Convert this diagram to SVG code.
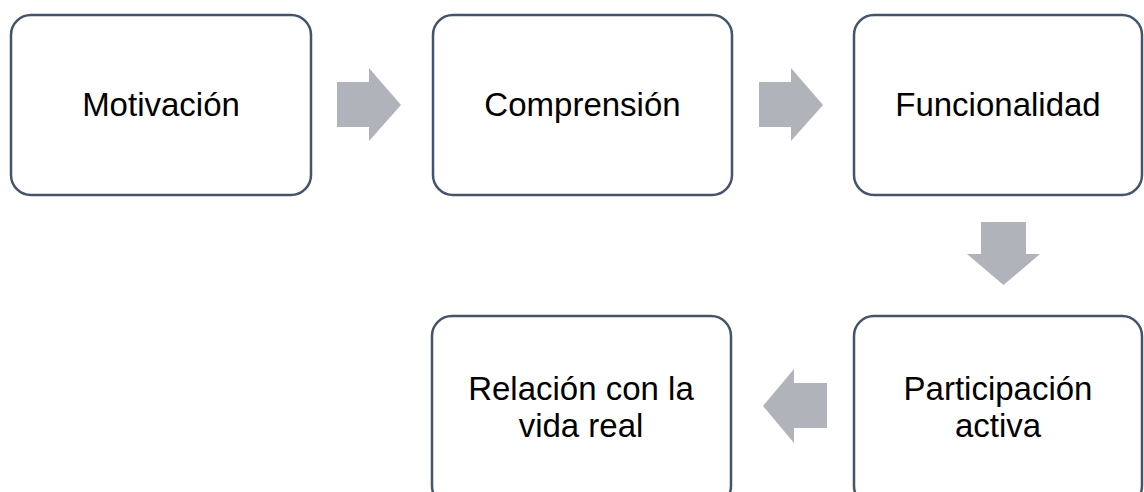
<svg xmlns="http://www.w3.org/2000/svg" width="1144" height="492" viewBox="0 0 1144 492">
<style>
.box{fill:#ffffff;stroke:#44546A;stroke-width:2.5}
.arr{fill:#B0B3B9;stroke:none}
.lbl{font-family:"Liberation Sans",Arial,sans-serif;font-size:33px;fill:#000000;text-anchor:middle}
</style>
<rect width="1144" height="492" fill="#ffffff"/>
<g id="connectors">
<polygon class="arr" points="337,82 369,82 369,68 401,105 369,141 369,127 337,127"/>
<polygon class="arr" points="759,82 791,82 791,68 823,105 791,141 791,127 759,127"/>
<polygon class="arr" points="981,222 1026,222 1026,254 1040,254 1003.5,285 967,254 981,254"/>
<polygon class="arr" points="827,383 794,383 794,369 763,406 794,443 794,428 827,428"/>
</g>
<g id="node-motivacion">
<rect class="box" x="11" y="15" width="300" height="180" rx="20"/>
<text class="lbl" x="161" y="116">Motivación</text>
</g>
<g id="node-comprension">
<rect class="box" x="433" y="15" width="299" height="180" rx="20"/>
<text class="lbl" x="582.5" y="116">Comprensión</text>
</g>
<g id="node-funcionalidad">
<rect class="box" x="854" y="15" width="288" height="180" rx="20"/>
<text class="lbl" x="998" y="116">Funcionalidad</text>
</g>
<g id="node-participacion">
<rect class="box" x="854" y="316" width="288" height="190" rx="20"/>
<text class="lbl" x="998" y="400">Participación</text>
<text class="lbl" x="998" y="437">activa</text>
</g>
<g id="node-relacion">
<rect class="box" x="432" y="316" width="299" height="190" rx="20"/>
<text class="lbl" x="581" y="400">Relación con la</text>
<text class="lbl" x="581" y="437">vida real</text>
</g>
</svg>
